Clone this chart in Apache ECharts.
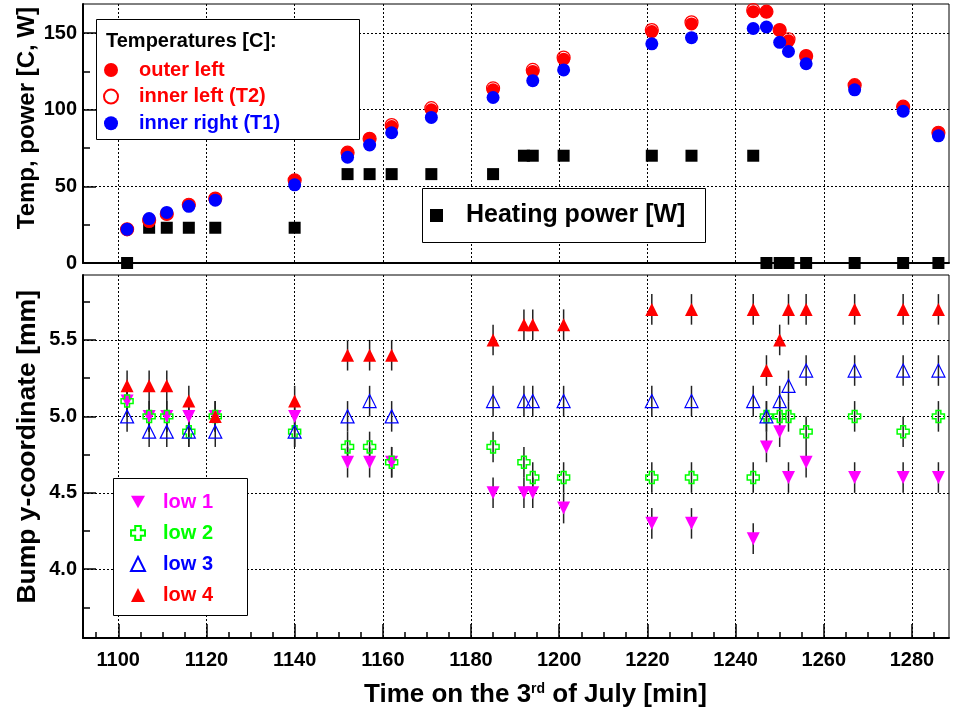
<!DOCTYPE html>
<html>
<head>
<meta charset="utf-8">
<script src="https://cdn.jsdelivr.net/npm/echarts@6.0.0/dist/echarts.min.js"></script>
<style>
  html, body { margin: 0; padding: 0; background: #fff; }
  #chart { width: 958px; height: 713px; }
</style>
</head>
<body>
<div id="chart"></div>
<script>
const FONT = '"Liberation Sans", Arial, sans-serif';

// top pad: temperatures and heating power
const tempTimes = [1102, 1107, 1111, 1116, 1122, 1140, 1152, 1157, 1162, 1171, 1185, 1194, 1201, 1221, 1230, 1244, 1247, 1250, 1252, 1256, 1267, 1278, 1286];
const outerLeft = [22, 27, 32, 38, 42, 54, 72, 81, 89, 100, 113, 125, 133, 151, 156, 164, 164, 152, 145, 135, 116, 102, 85];
const innerLeft = [22, 28, 32, 38, 42, 54, 72, 81, 90, 101, 114, 126, 134, 152, 157, 165, 164, 152, 146, 135, 116, 102, 85];
const innerRight = [22, 29, 33, 37, 41, 51, 69, 77, 85, 95, 108, 119, 126, 143, 147, 153, 154, 144, 138, 130, 113, 99, 83];

const powerTimes = [1102, 1107, 1111, 1116, 1122, 1140, 1152, 1157, 1162, 1171, 1185, 1192, 1194, 1201, 1221, 1230, 1244, 1247, 1250, 1252, 1256, 1267, 1278, 1286];
const heatingPower = [0, 23, 23, 23, 23, 23, 58, 58, 58, 58, 58, 70, 70, 70, 70, 70, 70, 0, 0, 0, 0, 0, 0, 0];

// bottom pad: bump y-coordinates
const bumpTimes = [1102, 1107, 1111, 1116, 1122, 1140, 1152, 1157, 1162, 1185, 1192, 1194, 1201, 1221, 1230, 1244, 1247, 1250, 1252, 1256, 1267, 1278, 1286];
const low1 = [5.1, 5.0, 5.0, 5.0, 5.0, 5.0, 4.7, 4.7, 4.7, 4.5, 4.5, 4.5, 4.4, 4.3, 4.3, 4.2, 4.8, 4.9, 4.6, 4.7, 4.6, 4.6, 4.6];
const low2 = [5.1, 5.0, 5.0, 4.9, 5.0, 4.9, 4.8, 4.8, 4.7, 4.8, 4.7, 4.6, 4.6, 4.6, 4.6, 4.6, 5.0, 5.0, 5.0, 4.9, 5.0, 4.9, 5.0];
const low3 = [5.0, 4.9, 4.9, 4.9, 4.9, 4.9, 5.0, 5.1, 5.0, 5.1, 5.1, 5.1, 5.1, 5.1, 5.1, 5.1, 5.0, 5.1, 5.2, 5.3, 5.3, 5.3, 5.3];
const low4 = [5.2, 5.2, 5.2, 5.1, 5.0, 5.1, 5.4, 5.4, 5.4, 5.5, 5.6, 5.6, 5.6, 5.7, 5.7, 5.7, 5.3, 5.5, 5.7, 5.7, 5.7, 5.7, 5.7];
const bumpErr = 0.1;

// ticks
const xTicks = [1100, 1120, 1140, 1160, 1180, 1200, 1220, 1240, 1260, 1280];
const xMinorTicks = [1095, 1105, 1110, 1115, 1125, 1130, 1135, 1145, 1150, 1155, 1165, 1170, 1175, 1185, 1190, 1195,
  1205, 1210, 1215, 1225, 1230, 1235, 1245, 1250, 1255, 1265, 1270, 1275, 1285];
const tempTicks = [0, 50, 100, 150];
const tempMinorTicks = [25, 75, 125];
const bumpTicks = [4.0, 4.5, 5.0, 5.5];
const bumpMinorTicks = [3.75, 4.25, 4.75, 5.25, 5.75];

const chart = echarts.init(document.getElementById('chart'), null, { renderer: 'canvas' });

const dotted = { show: true, lineStyle: { color: '#000', width: 1, type: [2, 2] } };
const labelFont = { fontFamily: FONT, fontWeight: 'bold', fontSize: 20, color: '#000' };

function pairs(xs, ys) {
  return xs.map((x, i) => [x, ys[i]]);
}

function xAxisMain(gridIndex, withLabels) {
  return {
    type: 'value', gridIndex, min: 1092, max: 1288.4,
    axisLine: { show: true, onZero: false, lineStyle: { color: '#000', width: 2 } },
    axisTick: { show: withLabels, inside: true, length: 14, customValues: xTicks, lineStyle: { color: '#000', width: 1.5 } },
    axisLabel: Object.assign({ show: withLabels, margin: 12, customValues: xTicks, formatter: v => String(v) }, labelFont),
    splitLine: dotted,
  };
}

function minorAxis(kind, gridIndex, min, max, values, length) {
  return {
    type: 'value', gridIndex, min, max,
    position: kind === 'x' ? 'bottom' : 'left',
    axisLine: { show: false },
    axisTick: { show: true, inside: true, length, customValues: values, lineStyle: { color: '#000', width: 1.5 } },
    axisLabel: { show: false },
    splitLine: { show: false },
  };
}

function yAxisMain(gridIndex, min, max, ticks, fmt) {
  return {
    type: 'value', gridIndex, min, max,
    axisLine: { show: true, onZero: false, lineStyle: { color: '#000', width: 2 } },
    axisTick: { show: true, inside: true, length: 13, customValues: ticks, lineStyle: { color: '#000', width: 1.5 } },
    axisLabel: Object.assign({ margin: 6, customValues: ticks, formatter: fmt }, labelFont),
    splitLine: dotted,
  };
}

function errorBars(vals) {
  return {
    type: 'custom', xAxisIndex: 1, yAxisIndex: 2, silent: true, z: 1,
    data: bumpTimes.map((t, i) => [t, vals[i] - bumpErr, vals[i] + bumpErr]),
    encode: { x: 0, y: [1, 2] },
    renderItem(params, api) {
      const lo = api.coord([api.value(0), api.value(1)]);
      const hi = api.coord([api.value(0), api.value(2)]);
      return {
        type: 'line',
        shape: { x1: lo[0], y1: lo[1], x2: hi[0], y2: hi[1] },
        style: { stroke: '#222', lineWidth: 1.5 },
      };
    },
  };
}

const crossPath = 'path://M3,0H7V3H10V7H7V10H3V7H0V3H3Z';
const downTriangle = 'path://M0,0L10,0L5,9Z';

const legendText = { fontFamily: FONT, fontWeight: 'bold', fontSize: 20, lineHeight: 20 };

const option = {
  animation: false,
  backgroundColor: '#fff',
  grid: [
    { left: 83, top: 4, right: 9, height: 259, show: true, borderColor: '#000', borderWidth: 1, backgroundColor: 'transparent' },
    { left: 83, top: 275, right: 9, height: 363, show: true, borderColor: '#000', borderWidth: 1, backgroundColor: 'transparent' },
  ],
  xAxis: [
    xAxisMain(0, false),
    xAxisMain(1, true),
    minorAxis('x', 1, 1092, 1288.4, xMinorTicks, 6),
  ],
  yAxis: [
    yAxisMain(0, 0, 169, tempTicks, v => String(v)),
    minorAxis('y', 0, 0, 169, tempMinorTicks, 7),
    yAxisMain(1, 3.55, 5.925, bumpTicks, v => v.toFixed(1)),
    minorAxis('y', 1, 3.55, 5.925, bumpMinorTicks, 7),
  ],
  legend: [
    {
      data: [
        { name: 'outer left', textStyle: { color: '#ff0000' } },
        { name: 'inner left (T2)', textStyle: { color: '#ff0000' } },
        { name: 'inner right (T1)', textStyle: { color: '#0000ff' } },
      ],
      orient: 'vertical', left: 103, top: 60, itemWidth: 14, itemHeight: 14, itemGap: 6.6,
      padding: 0, selectedMode: false, z: 20,
      textStyle: Object.assign({ padding: [0, 0, 0, 16] }, legendText),
    },
    {
      data: ['Heating power [W]'],
      orient: 'vertical', left: 430, top: 203, itemWidth: 13, itemHeight: 13,
      padding: 0, selectedMode: false, z: 20,
      textStyle: { fontFamily: FONT, fontWeight: 'bold', fontSize: 25, lineHeight: 25, color: '#000', padding: [0, 0, 0, 18] },
    },
    {
      data: [
        { name: 'low 1', icon: downTriangle, textStyle: { color: '#ff00ff' } },
        { name: 'low 2', textStyle: { color: '#00ff00' } },
        { name: 'low 3', textStyle: { color: '#0000ff' } },
        { name: 'low 4', textStyle: { color: '#ff0000' } },
      ],
      orient: 'vertical', left: 130, top: 492, itemWidth: 14, itemHeight: 14, itemGap: 11,
      padding: 0, selectedMode: false, z: 20,
      textStyle: Object.assign({ padding: [0, 0, 0, 13] }, legendText),
    },
  ],
  graphic: {
    elements: [
      { type: 'rect', z: 10, shape: { x: 96.5, y: 19.5, width: 263, height: 120 }, style: { fill: '#fff', stroke: '#000', lineWidth: 1 } },
      { type: 'rect', z: 10, shape: { x: 422.5, y: 188.5, width: 283, height: 54 }, style: { fill: '#fff', stroke: '#000', lineWidth: 1 } },
      { type: 'rect', z: 10, shape: { x: 113.5, y: 478.5, width: 134, height: 137 }, style: { fill: '#fff', stroke: '#000', lineWidth: 1 } },
      { type: 'text', z: 20, x: 106, y: 41, style: { text: 'Temperatures [C]:', fontFamily: FONT, fontWeight: 'bold', fontSize: 20, fill: '#000', align: 'left', verticalAlign: 'middle' } },
      { type: 'text', z: 20, x: 27, y: 7, rotation: Math.PI / 2, style: { text: 'Temp, power [C, W]', fontFamily: FONT, fontWeight: 'bold', fontSize: 24, fill: '#000', align: 'right', verticalAlign: 'middle' } },
      { type: 'text', z: 20, x: 28, y: 290, rotation: Math.PI / 2, style: { text: 'Bump y-coordinate [mm]', fontFamily: FONT, fontWeight: 'bold', fontSize: 26.5, fill: '#000', align: 'right', verticalAlign: 'middle' } },
      {
        type: 'text', z: 20, x: 364, y: 695,
        style: {
          text: 'Time on the 3{sup|rd} of July [min]',
          fontFamily: FONT, fontWeight: 'bold', fontSize: 26, fill: '#000', align: 'left', verticalAlign: 'middle',
          rich: { sup: { fontFamily: FONT, fontWeight: 'bold', fontSize: 14, verticalAlign: 'top' } },
        },
      },
    ],
  },
  series: [
    {
      name: 'Heating power [W]', type: 'scatter', xAxisIndex: 0, yAxisIndex: 0,
      symbol: 'rect', symbolSize: 12, itemStyle: { color: '#000', opacity: 1 },
      data: pairs(powerTimes, heatingPower),
    },
    {
      name: 'outer left', type: 'scatter', xAxisIndex: 0, yAxisIndex: 0,
      symbol: 'circle', symbolSize: 13, itemStyle: { color: '#ff0000', opacity: 1 },
      data: pairs(tempTimes, outerLeft),
    },
    {
      name: 'inner left (T2)', type: 'scatter', xAxisIndex: 0, yAxisIndex: 0,
      symbol: 'circle', symbolSize: 13, itemStyle: { color: 'rgba(0,0,0,0)', borderColor: '#ff0000', borderWidth: 1.2, opacity: 1 },
      data: pairs(tempTimes, innerLeft),
    },
    {
      name: 'inner right (T1)', type: 'scatter', xAxisIndex: 0, yAxisIndex: 0,
      symbol: 'circle', symbolSize: 13, itemStyle: { color: '#0000ff', opacity: 1 },
      data: pairs(tempTimes, innerRight),
    },
    errorBars(low1),
    errorBars(low2),
    errorBars(low3),
    errorBars(low4),
    {
      name: 'low 1', type: 'scatter', xAxisIndex: 1, yAxisIndex: 2,
      symbol: 'triangle', symbolRotate: 180, symbolSize: 13, itemStyle: { color: '#ff00ff', opacity: 1 },
      data: pairs(bumpTimes, low1),
    },
    {
      name: 'low 2', type: 'scatter', xAxisIndex: 1, yAxisIndex: 2,
      symbol: crossPath, symbolSize: 12, itemStyle: { color: 'rgba(0,0,0,0)', borderColor: '#00ff00', borderWidth: 1.5, opacity: 1 },
      data: pairs(bumpTimes, low2),
    },
    {
      name: 'low 3', type: 'scatter', xAxisIndex: 1, yAxisIndex: 2,
      symbol: 'triangle', symbolSize: 13, itemStyle: { color: 'rgba(0,0,0,0)', borderColor: '#0000ff', borderWidth: 1.2, opacity: 1 },
      data: pairs(bumpTimes, low3),
    },
    {
      name: 'low 4', type: 'scatter', xAxisIndex: 1, yAxisIndex: 2,
      symbol: 'triangle', symbolSize: 13, itemStyle: { color: '#ff0000', opacity: 1 },
      data: pairs(bumpTimes, low4),
    },
  ],
};

chart.setOption(option);
</script>
</body>
</html>
